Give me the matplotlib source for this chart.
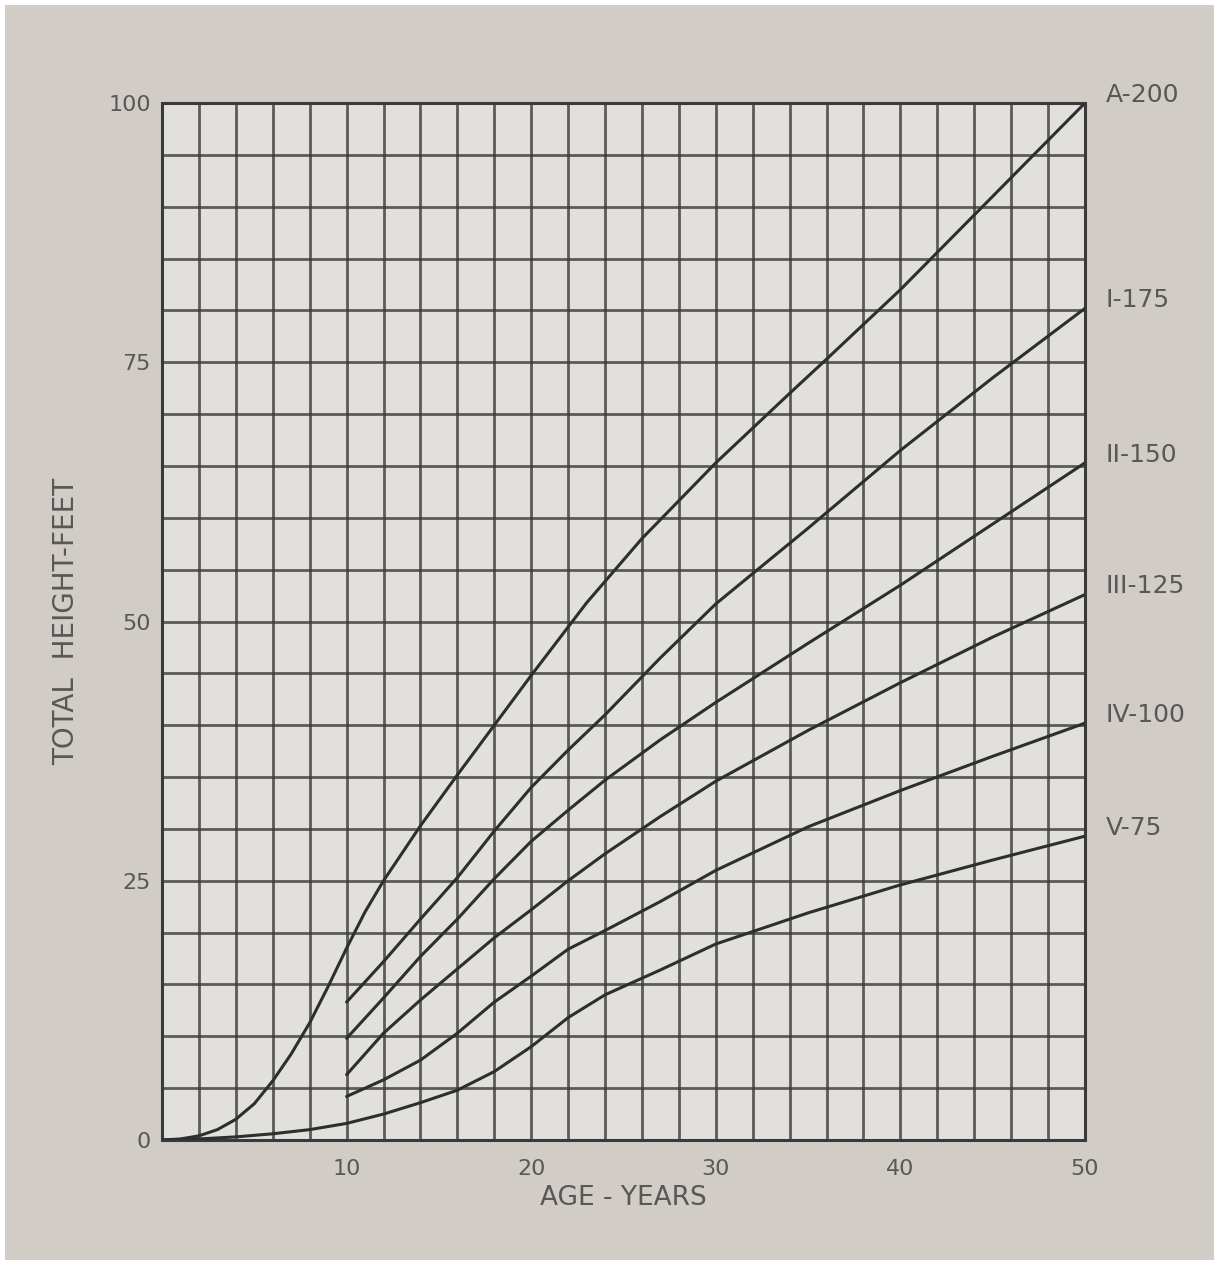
import numpy as np
import matplotlib
matplotlib.use("Agg")
import matplotlib.pyplot as plt
from matplotlib.patches import Rectangle

# site index curves: total height (feet) against age (years)
AGES_A = [0, 1, 2, 3, 4, 5, 6, 7, 8, 9, 10, 11, 12, 14, 16, 18, 20, 23, 26, 30, 34, 36, 40, 45, 50]
HEIGHT_A = [0, 0.1, 0.4, 1.0, 2.0, 3.5, 5.7, 8.3, 11.3, 14.8, 18.5, 22, 25, 30.3, 35.2, 40, 44.8,
            51.8, 58, 65.3, 72, 75.3, 82, 91, 100]

AGES_LOW = [10, 12, 14, 16, 18, 20, 22, 24, 27, 30, 35, 40, 45, 50]
HEIGHT_I = [13.3, 17.2, 21.3, 25.3, 29.8, 34, 37.6, 41, 46.5, 51.7, 59, 66.5, 73.5, 80.2]
HEIGHT_II = [9.8, 13.7, 17.7, 21.3, 25.2, 28.8, 31.8, 34.7, 38.6, 42.2, 47.9, 53.5, 59.4, 65.3]
HEIGHT_III = [6.3, 10.3, 13.5, 16.5, 19.5, 22.2, 25, 27.6, 31.2, 34.6, 39.5, 44.1, 48.5, 52.6]
HEIGHT_IV = [4.2, 5.8, 7.7, 10.3, 13.3, 15.8, 18.4, 20.2, 23, 26, 30.2, 33.7, 37, 40.2]

AGES_V = [0, 2, 4, 6, 8, 10, 12, 14, 16, 18, 20, 22, 24, 27, 30, 35, 40, 45, 50]
HEIGHT_V = [0, 0.1, 0.3, 0.6, 1.0, 1.6, 2.5, 3.6, 4.8, 6.6, 9.0, 11.8, 14.0, 16.4, 18.9, 21.9,
            24.6, 27, 29.3]

CURVE_LABELS = ["A-200", "I-175", "II-150", "III-125", "IV-100", "V-75"]
X_TICKS = [10, 20, 30, 40, 50]
Y_TICKS = [0, 25, 50, 75, 100]

INK = "#3a3a3a"
TEXT = "#585858"

fig = plt.figure(figsize=(12.14, 12.72), dpi=100)
fig.patch.set_facecolor("white")
# photo area (white strip round the edge like the scan)
fig.patches.append(Rectangle((5 / 1214, 12 / 1272), 1209 / 1214, 1255 / 1272,
                             transform=fig.transFigure, facecolor="#d1ccc6",
                             edgecolor="none", zorder=-10))

ax = fig.add_axes([162 / 1214, 1 - 1140 / 1272, (1085 - 162) / 1214, (1140 - 103) / 1272])
ax.set_facecolor("#e2e0dc")
ax.set_xlim(0, 50)
ax.set_ylim(0, 100)

# graph paper grid
for gx in range(2, 50, 2):
    ax.axvline(gx, color=INK, lw=2.0, alpha=0.8, zorder=1)
for gy in range(5, 100, 5):
    ax.axhline(gy, color=INK, lw=2.0, alpha=0.8, zorder=1)
for s in ax.spines.values():
    s.set_color(INK)
    s.set_linewidth(2.2)

series = [
    (AGES_A, HEIGHT_A),
    (AGES_LOW, HEIGHT_I),
    (AGES_LOW, HEIGHT_II),
    (AGES_LOW, HEIGHT_III),
    (AGES_LOW, HEIGHT_IV),
    (AGES_V, HEIGHT_V),
]
for (xs, ys), lab in zip(series, CURVE_LABELS):
    ax.plot(xs, ys, color="#2e2e2e", lw=2.2, zorder=3, solid_capstyle="round")
    ax.text(51.1, ys[-1] + 0.8, lab, fontsize=18, color=TEXT, ha="left", va="center",
            clip_on=False)

ax.set_xticks(X_TICKS)
ax.set_xticklabels([str(t) for t in X_TICKS])
ax.set_yticks(Y_TICKS)
ax.set_yticklabels([str(t) for t in Y_TICKS])
ax.tick_params(length=0, labelsize=16, labelcolor=TEXT)
ax.tick_params(axis="x", pad=14)
ax.tick_params(axis="y", pad=8)

ax.set_xlabel("AGE - YEARS", fontsize=19, color=TEXT, labelpad=4)
ax.set_ylabel("TOTAL  HEIGHT-FEET", fontsize=20, color=TEXT, labelpad=20)

fig.savefig("out.png", dpi=100, facecolor=fig.get_facecolor())
